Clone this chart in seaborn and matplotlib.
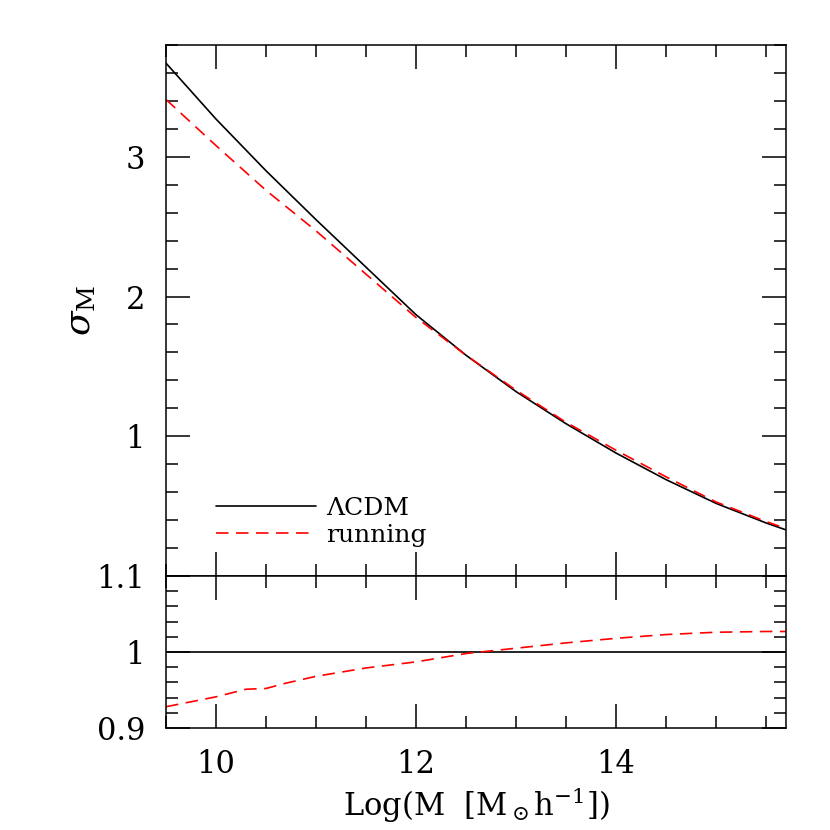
import seaborn as sns
import pandas as pd
import numpy as np
import matplotlib.pyplot as plt
from matplotlib.ticker import MultipleLocator, FixedLocator, FuncFormatter

#----- Data -----
log_m = [9.5, 10.0, 10.5, 11.0, 11.5, 12.0, 12.5, 13.0, 13.5, 14.0, 14.5, 15.0, 15.5, 15.7]
sigma_lcdm = [3.67, 3.27, 2.90, 2.55, 2.21, 1.87, 1.58, 1.32, 1.09, 0.88, 0.69, 0.52, 0.38, 0.33]
sigma_running = [3.41, 3.08, 2.76, 2.47, 2.16, 1.85, 1.58, 1.33, 1.10, 0.90, 0.71, 0.53, 0.39, 0.34]

ratio_x = [9.5, 10.0, 10.3, 10.5, 10.7, 11.0, 11.5, 12.0, 12.5, 13.0, 13.5, 14.0, 14.5, 15.0, 15.5, 15.7]
ratio = [0.928, 0.941, 0.951, 0.952, 0.959, 0.968, 0.979, 0.987, 0.998, 1.005, 1.012, 1.018, 1.023, 1.026, 1.027, 1.027]

#----- Style -----
sns.set_style("ticks")
plt.rcParams['font.family'] = ['DejaVu Serif']
plt.rcParams['mathtext.fontset'] = 'dejavuserif'
plt.rcParams['axes.linewidth'] = 1.1
for key in ['text.color', 'axes.labelcolor', 'axes.edgecolor', 'xtick.color', 'ytick.color']:
    plt.rcParams[key] = 'black'

df_top = pd.DataFrame({"logM": log_m + log_m,
                       "sigma": sigma_lcdm + sigma_running,
                       "model": ["ΛCDM"] * len(log_m) + ["running"] * len(log_m)})
df_ratio = pd.DataFrame({"logM": ratio_x, "ratio": ratio})

fig = plt.figure(figsize=(8.3, 8.3), dpi=100)
ax1 = fig.add_axes([0.2, 0.306, 0.747, 0.6398])
ax2 = fig.add_axes([0.2, 0.1229, 0.747, 0.1831], sharex=ax1)

sns.lineplot(data=df_top, x="logM", y="sigma", hue="model", style="model",
             palette={"ΛCDM": "black", "running": "red"},
             dashes={"ΛCDM": "", "running": (7.5, 4.5)},
             linewidth=1.2, ax=ax1)
ax2.axhline(1.0, color="black", linewidth=1.2)
sns.lineplot(data=df_ratio, x="logM", y="ratio", color="red",
             linewidth=1.2, ax=ax2)
ax2.lines[-1].set_dashes((7.5, 4.5))

ax1.set_xlim(9.5, 15.7)
ax1.set_ylim(0, 3.8)
ax2.set_ylim(0.9, 1.1)

for ax in (ax1, ax2):
    ax.xaxis.set_major_locator(MultipleLocator(2))
    ax.xaxis.set_minor_locator(MultipleLocator(0.5))
    ax.tick_params(which="both", direction="in", top=True, right=True,
                   width=1.1, labelsize=22, pad=15)
    ax.tick_params(which="major", length=17)
    ax.tick_params(which="minor", length=8.5)
    ax.set_xlabel("")
    ax.set_ylabel("")

ax1.yaxis.set_major_locator(FixedLocator([0, 1, 2, 3]))
ax1.yaxis.set_minor_locator(MultipleLocator(0.2))
ax1.yaxis.set_major_formatter(FuncFormatter(lambda v, p: "" if v == 0 else "%g" % v))
ax1.tick_params(axis="x", labelbottom=False)

ax2.yaxis.set_major_locator(MultipleLocator(0.1))
ax2.yaxis.set_minor_locator(MultipleLocator(0.02))
ax2.yaxis.set_major_formatter(FuncFormatter(lambda v, p: "%g" % round(v, 2)))

ax1.set_ylabel(r"$\sigma_{\rm M}$", fontsize=26, labelpad=20)
ax2.set_xlabel(r"Log(M  [M$_\odot$h$^{-1}$])", fontsize=22, labelpad=4)

ax1.legend(loc="lower left", bbox_to_anchor=(0.045, 0.012), frameon=False,
           fontsize=18, handlelength=4.0, handletextpad=0.4, labelspacing=0.18)

plt.savefig("out.png", dpi=100)
